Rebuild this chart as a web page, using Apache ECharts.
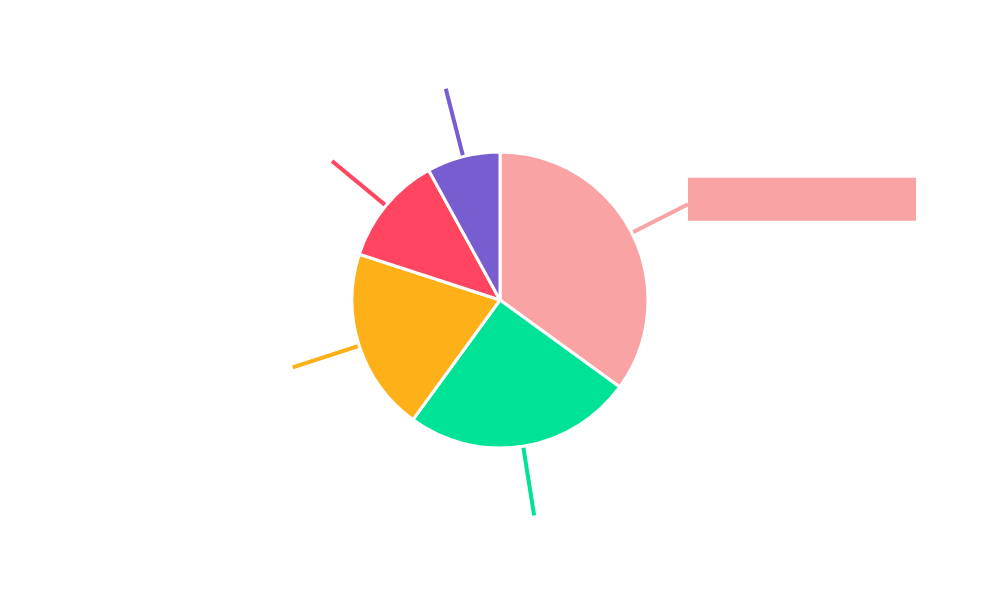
<!DOCTYPE html>
<html>
<head>
<meta charset="utf-8">
<script src="https://cdn.jsdelivr.net/npm/echarts@6/dist/echarts.min.js"></script>
<style>
  html, body { margin: 0; padding: 0; background: #fff; }
  #chart { width: 1000px; height: 600px; }
</style>
</head>
<body>
<div id="chart"></div>
<script>
const names = ["Series 1", "Series 2", "Series 3", "Series 4", "Series 5"];
const values = [35, 25, 20, 12, 8];
const colors = ["#f9a3a4", "#00e396", "#feb019", "#ff4560", "#775dd0"];

const chart = echarts.init(document.getElementById("chart"), null, { renderer: "canvas" });

const data = names.map((name, i) => {
  const item = { name, value: values[i], itemStyle: { color: colors[i] } };
  if (i === 0) {
    // highlighted label: filled box, text not shown
    item.label = {
      backgroundColor: colors[i],
      width: 228,
      height: 43,
      padding: 0,
      offset: [0, -5],
    };
    item.labelLine = { length: 63 };
  }
  return item;
});

chart.setOption({
  animation: false,
  series: [
    {
      type: "pie",
      center: [500, 300],
      radius: 148,
      startAngle: 90,
      clockwise: true,
      avoidLabelOverlap: false,
      itemStyle: { borderColor: "#fff", borderWidth: 3 },
      label: {
        show: true,
        position: "outside",
        color: "rgba(0,0,0,0)",
        fontFamily: "Roboto",
        fontSize: 14,
        distanceToLabelLine: 0,
      },
      labelLine: {
        show: true,
        length: 70,
        length2: 0,
        lineStyle: { width: 4 },
      },
      data,
    },
  ],
});
</script>
</body>
</html>
